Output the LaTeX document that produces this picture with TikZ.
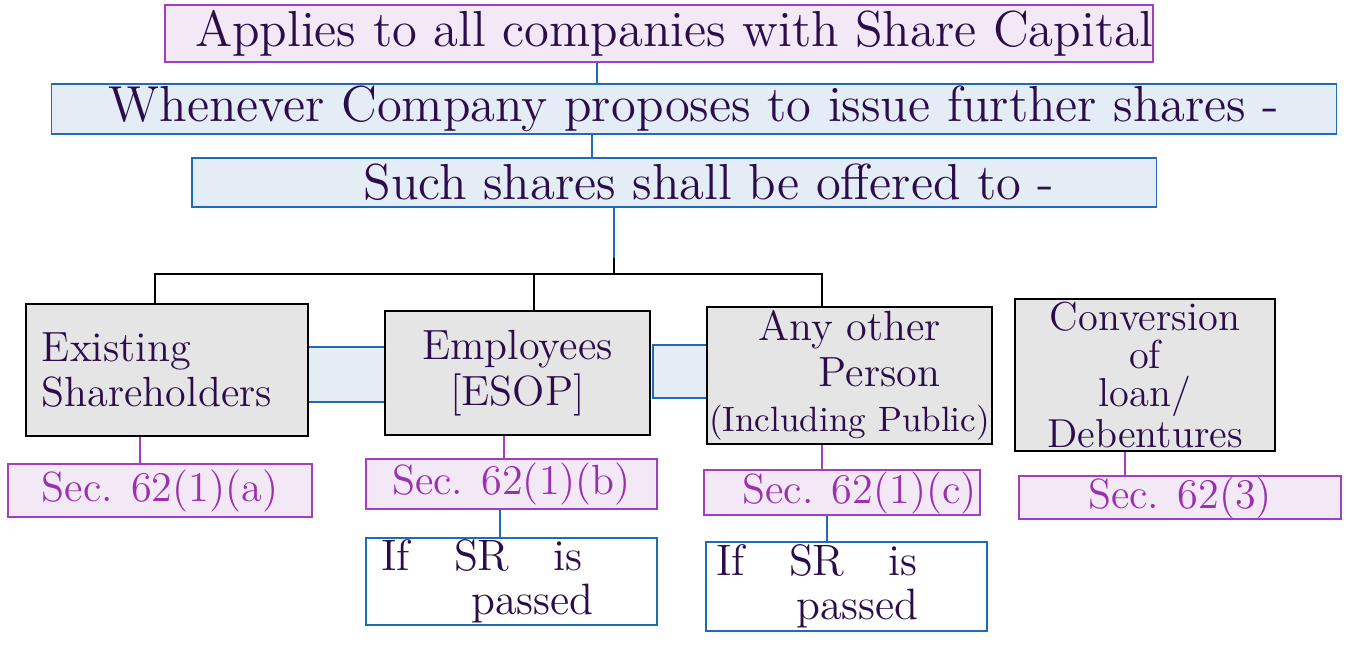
\documentclass[tikz,border=0pt]{standalone}
\usetikzlibrary{positioning}
\definecolor{ink}{HTML}{2A0D4A}
\definecolor{Pc}{HTML}{A23FC0}
\definecolor{Pf}{HTML}{F3E8F6}
\definecolor{Ptxt}{HTML}{9A2FB0}
\definecolor{Bc}{HTML}{1F6BB5}
\definecolor{Bf}{HTML}{E4EDF6}
\definecolor{Gf}{HTML}{E5E5E5}
\tikzset{
  pbox/.style={rectangle, draw=Pc, fill=Pf, line width=0.45pt, inner sep=0pt, text=ink},
  bbox/.style={rectangle, draw=Bc, fill=Bf, line width=0.45pt, inner sep=0pt, text=ink},
  gbox/.style={rectangle, draw=black, fill=Gf, line width=0.6pt, inner sep=0pt, text=ink, font=\fontsize{12}{13}\selectfont},
  secbox/.style={rectangle, draw=Pc, fill=Pf, line width=0.45pt, inner sep=0pt, text=Ptxt, font=\large},
  srbox/.style={rectangle, draw=Bc, fill=white, line width=0.45pt, inner sep=0pt, text=ink, font=\fontsize{12.5}{12.5}\selectfont, align=left, text width=2.6cm},
  bridge/.style={rectangle, draw=Bc, fill=Bf, line width=0.45pt, inner sep=0pt},
  blink/.style={draw=Bc, line width=0.45pt},
  plink/.style={draw=Pc, line width=0.45pt},
  tree/.style={draw=black, line width=0.5pt},
}
\begin{document}
\begin{tikzpicture}[x=0.01cm, y=-0.01cm]
  \useasboundingbox (0,0) rectangle (1346,651);
  \node[pbox, minimum width=9.86cm, minimum height=0.57cm, font=\Large] (apply) at (659,33.5) {\hspace*{0.3cm}Applies to all companies with Share Capital};
  \node[bbox, minimum width=12.84cm, minimum height=0.5cm, font=\Large] (issue) at (694,109) {Whenever Company proposes to issue further shares -};
  \node[bbox, minimum width=9.64cm, minimum height=0.49cm, font=\Large] (offer) at (674,182.5) {\hspace*{0.7cm}Such shares shall be offered to -};
  \draw[blink] ([xshift=-0.62cm]apply.south) -- ([xshift=-0.62cm]apply.south |- issue.north);
  \draw[blink] ([xshift=-1.02cm]issue.south) -- ([xshift=-1.02cm]issue.south |- offer.north);
  % who gets the offer
  \node[bridge, minimum width=0.77cm, minimum height=0.55cm] (brA) at (346.5,374.5) {};
  \node[bridge, minimum width=0.54cm, minimum height=0.53cm] (brB) at (680,371.5) {};
  \node[gbox, minimum width=2.82cm, minimum height=1.32cm, align=left, text width=2.5cm] (exist) at (167,370) {Existing\\ Shareholders};
  \node[gbox, minimum width=2.65cm, minimum height=1.24cm, align=center] (emp) at (517.5,373) {Employees\\ {[}ESOP{]}};
  \node[gbox, minimum width=2.85cm, minimum height=1.37cm, align=center] (any) at (849.5,375.5) {Any other\\ \hspace*{0.6cm}Person\\ {\normalsize(Including Public)}};
  \node[gbox, minimum width=2.60cm, minimum height=1.52cm, align=center, font=\fontsize{11.5}{10.8}\selectfont] (conv) at (1145,375) {Conversion\\ of\\ loan/\\ Debentures};
  \coordinate (fork) at (614,274);
  \draw[blink] (offer.south -| fork) -- ([yshift=0.16cm]fork);
  \draw[tree] ([yshift=0.16cm]fork) -- (fork);
  \draw[tree] ([xshift=-0.12cm]exist.north) |- (fork) -| ([xshift=-0.275cm]any.north);
  \draw[tree] ([xshift=0.165cm]emp.north) -- ([xshift=0.165cm]emp.north |- fork);
  % sections
  \node[secbox, minimum width=3.04cm, minimum height=0.53cm] (secA) at (160,490.5) {Sec. 62(1)(a)};
  \node[secbox, minimum width=2.91cm, minimum height=0.50cm] (secB) at (511.5,484) {Sec. 62(1)(b)};
  \node[secbox, minimum width=2.76cm, minimum height=0.45cm] (secC) at (842,492.5) {\hspace*{0.35cm}Sec. 62(1)(c)};
  \node[secbox, minimum width=3.22cm, minimum height=0.43cm] (secD) at (1180,497.5) {Sec. 62(3)};
  \draw[plink] ([xshift=-0.27cm]exist.south) -- ([xshift=-0.27cm]exist.south |- secA.north);
  \draw[plink] ([xshift=-0.135cm]emp.south) -- ([xshift=-0.135cm]emp.south |- secB.north);
  \draw[plink] ([xshift=-0.275cm]any.south) -- ([xshift=-0.275cm]any.south |- secC.north);
  \draw[plink] ([xshift=-0.2cm]conv.south) -- ([xshift=-0.2cm]conv.south |- secD.north);
  \node[srbox, minimum width=2.91cm, minimum height=0.87cm] (srB) at (511.5,581.5) {If\quad SR\quad is\\ \hspace*{0.9cm}passed};
  \node[srbox, minimum width=2.81cm, minimum height=0.89cm] (srC) at (846.5,586.5) {If\quad SR\quad is\\ \hspace*{0.8cm}passed};
  \draw[blink] ([xshift=-0.115cm]secB.south) -- ([xshift=-0.115cm]secB.south |- srB.north);
  \draw[blink] ([xshift=-0.15cm]secC.south) -- ([xshift=-0.15cm]secC.south |- srC.north);
\end{tikzpicture}
\end{document}
